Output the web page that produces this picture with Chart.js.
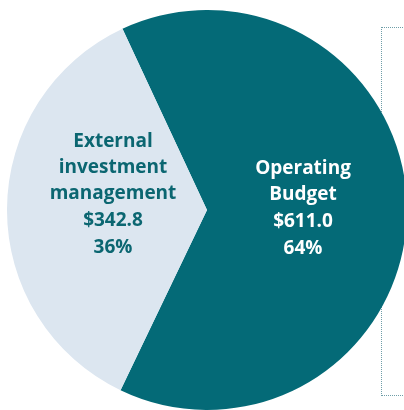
<!DOCTYPE html>
<html>
<head>
<meta charset="utf-8">
<script src="https://cdn.jsdelivr.net/npm/chart.js@4.4.1/dist/chart.umd.min.js"></script>
<style>
  html, body { margin: 0; padding: 0; background: #fff; overflow: hidden; }
  #wrap { position: relative; width: 404px; height: 410px; overflow: hidden; }
  #frame {
    position: absolute; left: 381px; top: 27px; width: 60px; height: 367px;
    border: 1px dotted #6f9ea8;
  }
  #pieBox { position: absolute; left: 7px; top: 10px; width: 400px; height: 400px; }
</style>
</head>
<body>
<div id="wrap">
  <div id="frame"></div>
  <div id="pieBox"><canvas id="budgetPie" width="400" height="400"></canvas></div>
</div>
<script>
// 各部分金额（百万美元）
let categories = ["Operating Budget", "External investment management"];
let amounts = [611.0, 342.8];
let shares = ["64%", "36%"];
// 标签分行
let labelLines = [["Operating", "Budget"], ["External", "investment", "management"]];
let sliceColors = ["#046a77", "#dce6f0"];
let textColors = ["#ffffff", "#0b6671"];

// 在扇区中间画多行文字
const sliceLabels = {
    id: 'sliceLabels',
    afterDatasetsDraw(chart) {
        const ctx = chart.ctx;
        const meta = chart.getDatasetMeta(0);
        const shift = [[2, -2], [0, -15]];
        meta.data.forEach((arc, i) => {
            const mid = (arc.startAngle + arc.endAngle) / 2;
            const r = arc.outerRadius * 0.47;
            const cx = arc.x + Math.cos(mid) * r + shift[i][0];
            const cy = arc.y + Math.sin(mid) * r + shift[i][1];
            const lines = labelLines[i].concat(["$" + amounts[i].toFixed(1), shares[i]]);
            const gaps = lines.map((_, k) => k < labelLines[i].length ? 26 : 27);
            const total = gaps.slice(1).reduce((a, b) => a + b, 0);
            let y = cy - total / 2;
            ctx.save();
            ctx.fillStyle = textColors[i];
            ctx.font = 'bold 19px "Open Sans"';
            ctx.textAlign = 'center';
            ctx.textBaseline = 'middle';
            lines.forEach((t, k) => {
                if (k > 0) y += gaps[k];
                ctx.fillText(t, cx, y);
            });
            ctx.restore();
        });
    }
};

let ctx = document.getElementById('budgetPie').getContext('2d');
let chart = new Chart(ctx, {
    type: 'pie',
    data: {
        labels: categories,
        datasets: [{
            data: amounts,
            backgroundColor: sliceColors,
            borderWidth: 0
        }]
    },
    options: {
        responsive: false,
        animation: false,
        rotation: -25,
        layout: { padding: 0 },
        plugins: {
            legend: { display: false },
            tooltip: { enabled: false }
        }
    },
    plugins: [sliceLabels]
});
</script>
</body>
</html>
